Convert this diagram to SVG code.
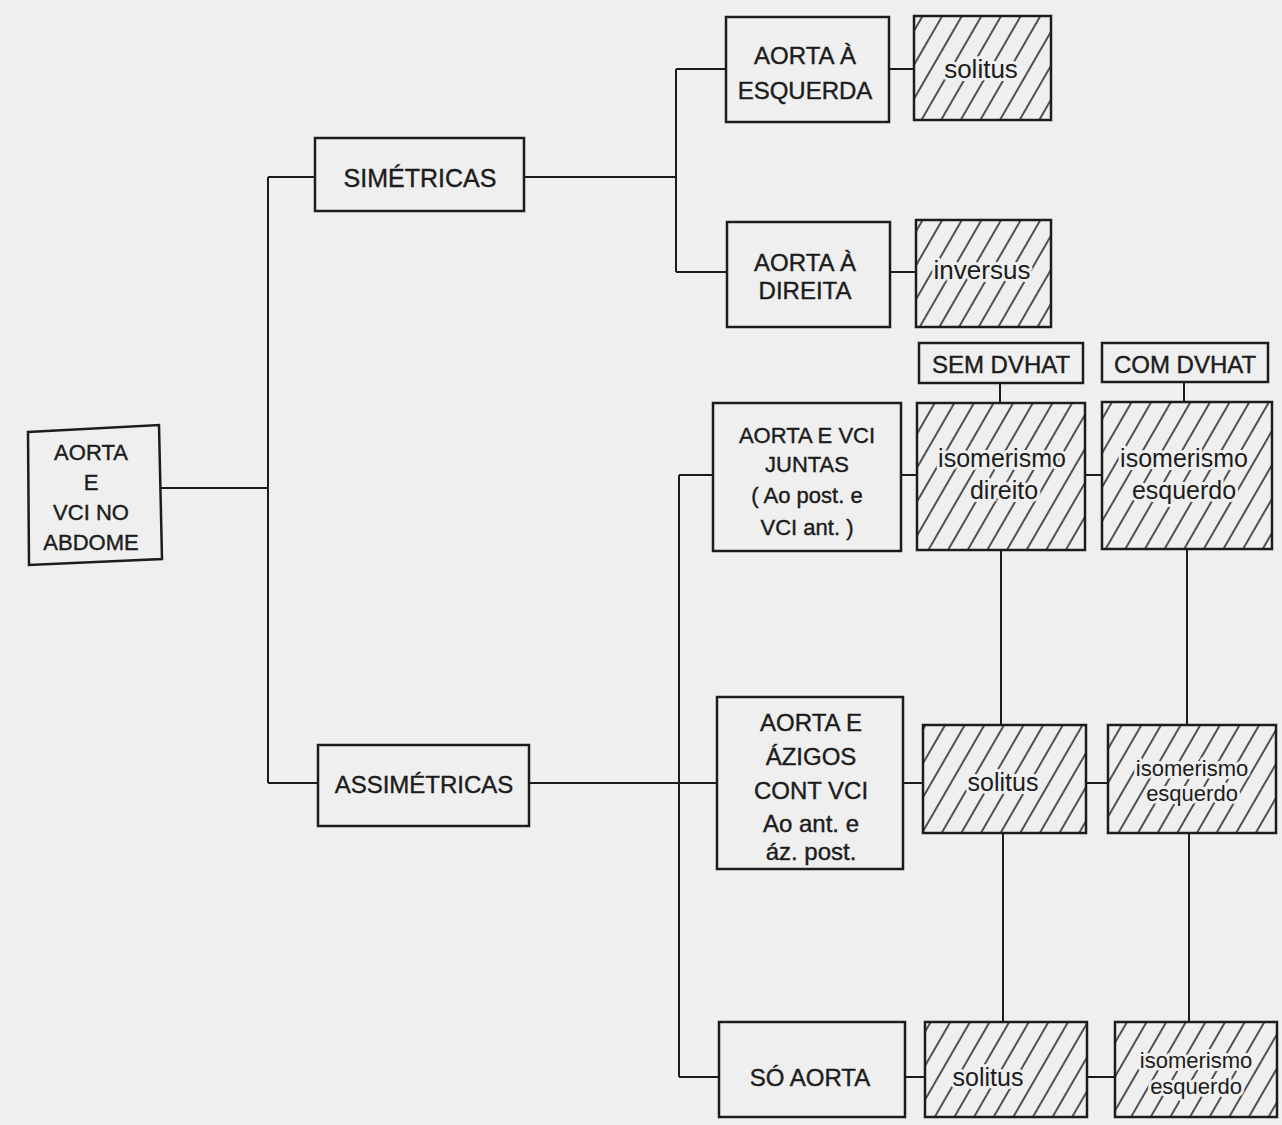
<svg xmlns="http://www.w3.org/2000/svg" width="1282" height="1125" viewBox="0 0 1282 1125">
<style>
  .bx { fill: #efefef; stroke: #1c1c1c; stroke-width: 2.5; }
  .hb { fill: url(#hatch); stroke: #1c1c1c; stroke-width: 2.5; }
  .t { font-family: "Liberation Sans", Arial, sans-serif; fill: #1c1c1c; stroke: #1c1c1c; stroke-width: 0.4; text-anchor: middle; dominant-baseline: central; }
  .ht { font-family: "Liberation Sans", Arial, sans-serif; fill: #1c1c1c; text-anchor: middle; dominant-baseline: central; stroke: #efefef; stroke-width: 6; paint-order: stroke; stroke-linejoin: round; }
  .c { fill: none; stroke: #1c1c1c; stroke-width: 2; }
</style>
<defs>
  <pattern id="hatch" patternUnits="userSpaceOnUse" width="17" height="17" patternTransform="rotate(30)">
    <rect width="17" height="17" fill="#efefef"/>
    <line x1="8" y1="0" x2="8" y2="17" stroke="#1c1c1c" stroke-width="1.5"/>
  </pattern>
</defs>
<rect width="1282" height="1125" fill="#efefef"/>

<g id="connectors">
  <path class="c" d="M160 488 H268 M268 177 V783 M268 177 H315 M268 783 H318"/>
  <path class="c" d="M524 177 H676 M676 69 V272 M676 69 H726 M676 272 H727 M889 69 H914 M890 272 H916"/>
  <path class="c" d="M529 783 H717 M679 475 V1077 M679 475 H713 M679 1077 H719"/>
  <path class="c" d="M901 475 H917 M1085 475 H1102 M1000 383 V404 M1184 382 V402"/>
  <path class="c" d="M1001 550 V725 M1187 549 V725 M903 783 H923 M1086 783 H1108"/>
  <path class="c" d="M1003 833 V1022 M1189 833 V1022 M905 1077 H925 M1087 1077 H1115"/>
</g>

<g id="n-abdome">
  <path class="bx" d="M28 432 L159 425 L162 559 L29 565 Z"/>
  <text class="t" x="91" y="452" font-size="22">AORTA</text>
  <text class="t" x="91" y="482" font-size="22">E</text>
  <text class="t" x="91" y="512" font-size="22">VCI NO</text>
  <text class="t" x="91" y="542" font-size="22">ABDOME</text>
</g>

<g id="n-simetricas">
  <rect class="bx" x="315" y="138" width="209" height="73"/>
  <text class="t" x="420" y="178" font-size="25">SIMÉTRICAS</text>
</g>

<g id="n-assimetricas">
  <rect class="bx" x="318" y="745" width="211" height="81"/>
  <text class="t" x="424" y="784" font-size="24">ASSIMÉTRICAS</text>
</g>

<g id="n-aorta-esquerda">
  <rect class="bx" x="726" y="17" width="163" height="105"/>
  <text class="t" x="805" y="55" font-size="24">AORTA  À</text>
  <text class="t" x="805" y="90" font-size="24">ESQUERDA</text>
</g>

<g id="n-solitus-1">
  <rect class="hb" x="914" y="16" width="137" height="104"/>
  <text class="ht" x="981" y="69" font-size="26">solitus</text>
</g>

<g id="n-aorta-direita">
  <rect class="bx" x="727" y="222" width="163" height="105"/>
  <text class="t" x="805" y="262" font-size="24">AORTA  À</text>
  <text class="t" x="805" y="290" font-size="24">DIREITA</text>
</g>

<g id="n-inversus">
  <rect class="hb" x="916" y="220" width="135" height="107"/>
  <text class="ht" x="982" y="270" font-size="26">inversus</text>
</g>

<g id="n-sem-dvhat">
  <rect class="bx" x="919" y="343" width="164" height="40"/>
  <text class="t" x="1001" y="364" font-size="24">SEM  DVHAT</text>
</g>

<g id="n-com-dvhat">
  <rect class="bx" x="1102" y="343" width="166" height="39"/>
  <text class="t" x="1185" y="364" font-size="24">COM  DVHAT</text>
</g>

<g id="n-juntas">
  <rect class="bx" x="713" y="403" width="188" height="148"/>
  <text class="t" x="807" y="435" font-size="22">AORTA E VCI</text>
  <text class="t" x="807" y="464" font-size="22">JUNTAS</text>
  <text class="t" x="807" y="495" font-size="22">( Ao post. e</text>
  <text class="t" x="807" y="527" font-size="22">VCI ant. )</text>
</g>

<g id="n-iso-direito">
  <rect class="hb" x="917" y="403" width="168" height="147"/>
  <text class="ht" x="1002" y="458" font-size="25">isomerismo</text>
  <text class="ht" x="1004" y="490" font-size="25">direito</text>
</g>

<g id="n-iso-esquerdo-1">
  <rect class="hb" x="1102" y="402" width="170" height="147"/>
  <text class="ht" x="1184" y="458" font-size="25">isomerismo</text>
  <text class="ht" x="1184" y="490" font-size="25">esquerdo</text>
</g>

<g id="n-azigos">
  <rect class="bx" x="717" y="697" width="186" height="172"/>
  <text class="t" x="811" y="722" font-size="24">AORTA E</text>
  <text class="t" x="811" y="756" font-size="24">ÁZIGOS</text>
  <text class="t" x="811" y="790" font-size="24">CONT VCI</text>
  <text class="t" x="811" y="823" font-size="24">Ao ant. e</text>
  <text class="t" x="811" y="851" font-size="24">áz. post.</text>
</g>

<g id="n-solitus-2">
  <rect class="hb" x="923" y="725" width="163" height="108"/>
  <text class="ht" x="1003" y="782" font-size="25">solitus</text>
</g>

<g id="n-iso-esquerdo-2">
  <rect class="hb" x="1108" y="725" width="168" height="108"/>
  <text class="ht" x="1192" y="768" font-size="22">isomerismo</text>
  <text class="ht" x="1192" y="793" font-size="22">esquerdo</text>
</g>

<g id="n-so-aorta">
  <rect class="bx" x="719" y="1022" width="186" height="95"/>
  <text class="t" x="810" y="1077" font-size="24">SÓ AORTA</text>
</g>

<g id="n-solitus-3">
  <rect class="hb" x="925" y="1022" width="162" height="95"/>
  <text class="ht" x="988" y="1077" font-size="25">solitus</text>
</g>

<g id="n-iso-esquerdo-3">
  <rect class="hb" x="1115" y="1022" width="162" height="95"/>
  <text class="ht" x="1196" y="1060" font-size="22">isomerismo</text>
  <text class="ht" x="1196" y="1086" font-size="22">esquerdo</text>
</g>
</svg>
